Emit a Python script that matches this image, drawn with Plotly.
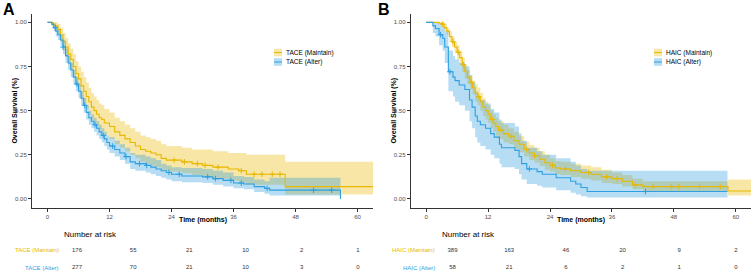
import numpy as np
import plotly.graph_objects as go

# ---------------- data ----------------
# Panel A, TACE (Maintain)
t_am = [0, 1.0, 1.5, 2.0, 2.5, 3.0, 3.5, 4.0, 4.5, 5.0, 5.5, 6.0, 6.5, 7.0, 7.5, 8.0, 8.5, 9.0, 9.5, 10.0,
        10.5, 11.0, 12.0, 13.0, 14.0, 15.0, 16.0, 17.0, 18.0, 19.0, 20.0, 21.0, 22.0, 23.0, 26.0, 28.0, 30.0,
        32.0, 35.0, 37.0, 38.5, 46.0, 63.0]
s_am = [1.0, 0.99, 0.98, 0.96, 0.93, 0.89, 0.86, 0.82, 0.79, 0.75, 0.71, 0.68, 0.64, 0.61, 0.58, 0.55, 0.52, 0.50, 0.48, 0.46,
        0.45, 0.43, 0.41, 0.38, 0.36, 0.34, 0.32, 0.30, 0.28, 0.27, 0.26, 0.25, 0.23, 0.22, 0.21, 0.20, 0.19,
        0.18, 0.17, 0.16, 0.14, 0.07, 0.07]
hi_am = [1.0, 1.0, 1.0, 0.99, 0.97, 0.94, 0.91, 0.88, 0.85, 0.82, 0.78, 0.75, 0.72, 0.69, 0.66, 0.63, 0.60, 0.58, 0.56, 0.54,
         0.53, 0.51, 0.49, 0.46, 0.44, 0.42, 0.40, 0.38, 0.36, 0.35, 0.34, 0.33, 0.31, 0.30, 0.29, 0.28, 0.28,
         0.27, 0.26, 0.26, 0.25, 0.21, 0.21]
lo_am = [1.0, 0.97, 0.95, 0.93, 0.89, 0.84, 0.81, 0.76, 0.73, 0.69, 0.65, 0.61, 0.57, 0.54, 0.51, 0.48, 0.45, 0.43, 0.41, 0.39,
         0.38, 0.36, 0.34, 0.31, 0.29, 0.27, 0.25, 0.23, 0.21, 0.20, 0.19, 0.18, 0.165, 0.155, 0.145, 0.135, 0.125,
         0.115, 0.105, 0.095, 0.08, 0.025, 0.025]
c_am = [24.5, 26.5, 29.0, 30.5, 33.0, 37.5, 40.0, 41.5, 43.5, 45.0]

# Panel A, TACE (Alter)
t_aa = [0, 0.8, 1.2, 1.6, 2.0, 2.5, 3.0, 3.5, 4.0, 4.5, 5.0, 5.5, 6.0, 6.5, 7.0, 7.5, 8.0, 8.5, 9.0, 9.5,
        10.0, 10.5, 11.0, 11.5, 12.0, 13.0, 14.0, 15.0, 16.0, 17.0, 19.0, 20.0, 21.0, 22.0, 23.0, 24.0, 26.0,
        30.0, 32.0, 34.0, 36.0, 38.0, 40.0, 42.0, 43.0, 56.7]
s_aa = [1.0, 0.99, 0.97, 0.95, 0.93, 0.90, 0.86, 0.81, 0.77, 0.73, 0.69, 0.65, 0.61, 0.57, 0.53, 0.49, 0.46, 0.44, 0.42, 0.40,
        0.38, 0.36, 0.34, 0.32, 0.30, 0.28, 0.26, 0.24, 0.21, 0.20, 0.19, 0.18, 0.17, 0.16, 0.15, 0.14, 0.13,
        0.125, 0.115, 0.105, 0.09, 0.085, 0.07, 0.06, 0.05, 0.0]
hi_aa = [1.0, 1.0, 0.99, 0.98, 0.96, 0.93, 0.90, 0.85, 0.81, 0.77, 0.73, 0.69, 0.65, 0.61, 0.57, 0.53, 0.50, 0.48, 0.46, 0.44,
         0.42, 0.40, 0.38, 0.36, 0.35, 0.33, 0.31, 0.29, 0.26, 0.25, 0.24, 0.23, 0.22, 0.20, 0.19, 0.18, 0.175,
         0.17, 0.16, 0.15, 0.13, 0.125, 0.11, 0.10, 0.12, 0.12]
lo_aa = [1.0, 0.98, 0.95, 0.92, 0.90, 0.87, 0.82, 0.77, 0.73, 0.69, 0.65, 0.61, 0.57, 0.53, 0.49, 0.45, 0.42, 0.40, 0.38, 0.36,
         0.34, 0.32, 0.30, 0.28, 0.26, 0.24, 0.22, 0.20, 0.17, 0.16, 0.15, 0.14, 0.13, 0.12, 0.11, 0.10, 0.095,
         0.09, 0.08, 0.07, 0.06, 0.055, 0.04, 0.03, 0.02, 0.005]
c_aa = [1.5, 3.0, 5.7, 7.2, 9.2, 10.8, 12.6, 15.2, 17.8, 19.2, 23.5, 25.5, 31.0, 32.5, 35.5, 37.5, 42.5, 51.5, 55.0]

# Panel B, HAIC (Maintain)
t_bm = [0, 2.5, 3.0, 3.5, 4.0, 4.5, 5.0, 5.5, 6.0, 6.5, 7.0, 7.5, 8.0, 8.5, 9.0, 9.5, 10.0, 10.5, 11.0, 11.5,
        12.0, 12.5, 13.0, 13.5, 14.0, 15.0, 16.0, 17.0, 18.0, 19.0, 20.0, 21.0, 22.0, 23.0, 24.0, 25.0, 26.0,
        28.0, 30.0, 32.0, 34.0, 36.0, 38.0, 40.0, 42.0, 58.5, 63.0]
s_bm = [1.0, 0.995, 0.99, 0.97, 0.95, 0.92, 0.89, 0.86, 0.83, 0.80, 0.76, 0.72, 0.69, 0.66, 0.63, 0.60, 0.58, 0.55, 0.52, 0.50,
        0.48, 0.45, 0.43, 0.41, 0.39, 0.37, 0.355, 0.33, 0.31, 0.28, 0.26, 0.245, 0.225, 0.205, 0.19, 0.175, 0.17,
        0.16, 0.15, 0.14, 0.125, 0.115, 0.10, 0.08, 0.07, 0.045, 0.045]
hi_bm = [1.0, 1.0, 1.0, 0.99, 0.97, 0.95, 0.92, 0.89, 0.87, 0.84, 0.80, 0.76, 0.73, 0.70, 0.67, 0.65, 0.63, 0.60, 0.57, 0.55,
         0.53, 0.50, 0.48, 0.46, 0.44, 0.42, 0.40, 0.38, 0.355, 0.325, 0.305, 0.29, 0.27, 0.25, 0.23, 0.215, 0.21,
         0.20, 0.19, 0.18, 0.165, 0.15, 0.135, 0.115, 0.10, 0.11, 0.11]
lo_bm = [1.0, 0.99, 0.98, 0.95, 0.93, 0.89, 0.86, 0.83, 0.79, 0.76, 0.72, 0.68, 0.65, 0.62, 0.59, 0.55, 0.53, 0.50, 0.47, 0.45,
         0.43, 0.40, 0.38, 0.36, 0.34, 0.32, 0.31, 0.285, 0.265, 0.24, 0.22, 0.205, 0.185, 0.165, 0.155, 0.14, 0.135,
         0.125, 0.115, 0.105, 0.09, 0.085, 0.07, 0.055, 0.045, 0.02, 0.02]
c_bm = [3.2, 5.2, 6.2, 7.2, 8.8, 10.2, 12.8, 14.5, 16.5, 19.5, 21.0, 24.5, 27.0, 31.5, 35.0, 37.0, 40.5,
        44.0, 47.5, 49.0, 53.0, 57.0]

# Panel B, HAIC (Alter)
t_ba = [0, 1.3, 1.8, 2.5, 3.2, 3.6, 4.3, 5.2, 5.6, 6.4, 7.5, 8.4, 8.9, 9.5, 9.9, 10.5, 11.5, 12.5, 13.2, 14.2,
        14.6, 17.2, 18.0, 18.5, 19.5, 21.5, 22.5, 25.2, 28.0, 29.0, 30.0, 31.2, 58.4]
s_ba = [1.0, 0.98, 0.965, 0.93, 0.91, 0.86, 0.72, 0.69, 0.67, 0.645, 0.62, 0.56, 0.52, 0.47, 0.44, 0.42, 0.40, 0.37, 0.35, 0.31,
        0.29, 0.275, 0.24, 0.20, 0.17, 0.155, 0.14, 0.12, 0.10, 0.085, 0.065, 0.042, 0.042]
hi_ba = [1.0, 1.0, 1.0, 0.99, 0.98, 0.95, 0.84, 0.81, 0.79, 0.77, 0.75, 0.70, 0.66, 0.61, 0.58, 0.56, 0.54, 0.51, 0.49, 0.45,
         0.43, 0.41, 0.37, 0.33, 0.29, 0.27, 0.25, 0.23, 0.21, 0.19, 0.17, 0.16, 0.16]
lo_ba = [1.0, 0.94, 0.92, 0.87, 0.84, 0.77, 0.61, 0.58, 0.55, 0.53, 0.50, 0.44, 0.40, 0.35, 0.32, 0.30, 0.28, 0.25, 0.23, 0.20,
         0.18, 0.17, 0.14, 0.11, 0.085, 0.075, 0.065, 0.05, 0.035, 0.025, 0.015, 0.008, 0.008]
c_ba = [2.8, 4.6, 20.0, 42.5]

# Number at risk
risk_times = [0, 12, 24, 36, 48, 60]
risk_am = [176, 55, 21, 10, 2, 1]
risk_aa = [277, 70, 21, 10, 3, 0]
risk_bm = [389, 163, 46, 20, 9, 2]
risk_ba = [58, 21, 6, 2, 1, 0]

x_ticks = [0, 12, 24, 36, 48, 60]
y_ticks = [0.0, 0.25, 0.5, 0.75, 1.0]
y_ticklabels = ["0.00", "0.25", "0.50", "0.75", "1.00"]

names_A = ["TACE (Maintain)", "TACE (Alter)"]
names_B = ["HAIC (Maintain)", "HAIC (Alter)"]
x_title = "Time (months)"
y_title = "Overall Survival (%)"

# ---------------- styling ----------------
YEL = "#E7B800"
BLU = "#2E9FDF"
YEL_F = "rgba(231,184,0,0.35)"
BLU_F = "rgba(46,159,223,0.35)"
FONT = "Arial, Liberation Sans, sans-serif"
W, H = 753, 271


def px(x):
    return x / W


def py(y):
    return 1 - y / H


fig = go.Figure()


def add_curve(t, lo, hi, fillc, xa, ya):
    fig.add_trace(go.Scatter(x=t, y=lo, mode="lines", line=dict(width=0, shape="hv"),
                             hoverinfo="skip", showlegend=False, xaxis=xa, yaxis=ya))
    fig.add_trace(go.Scatter(x=t, y=hi, mode="lines", line=dict(width=0, shape="hv"),
                             fill="tonexty", fillcolor=fillc, hoverinfo="skip",
                             showlegend=False, xaxis=xa, yaxis=ya))


def add_line(t, s, cens, color, xa, ya, name):
    fig.add_trace(go.Scatter(x=t, y=s, mode="lines", line=dict(width=1.1, color=color, shape="hv"),
                             name=name, showlegend=False, xaxis=xa, yaxis=ya))
    ta = np.array(t)
    sa = np.array(s)
    idx = np.searchsorted(ta, np.array(cens), side="right") - 1
    fig.add_trace(go.Scatter(x=cens, y=sa[idx], mode="markers",
                             marker=dict(symbol="cross-thin-open", size=4,
                                         line=dict(width=1, color=color), color=color),
                             showlegend=False, hoverinfo="skip", xaxis=xa, yaxis=ya))


add_curve(t_am, lo_am, hi_am, YEL_F, "x", "y")
add_curve(t_aa, lo_aa, hi_aa, BLU_F, "x", "y")
add_line(t_am, s_am, c_am, YEL, "x", "y", names_A[0])
add_line(t_aa, s_aa, c_aa, BLU, "x", "y", names_A[1])

add_curve(t_bm, lo_bm, hi_bm, YEL_F, "x2", "y2")
add_curve(t_ba, lo_ba, hi_ba, BLU_F, "x2", "y2")
add_line(t_bm, s_bm, c_bm, YEL, "x2", "y2", names_B[0])
add_line(t_ba, s_ba, c_ba, BLU, "x2", "y2", names_B[1])

# risk tables
for xa, ya, rm, ra in [("x3", "y3", risk_am, risk_aa), ("x4", "y4", risk_bm, risk_ba)]:
    for row, vals in [(1, rm), (0, ra)]:
        fig.add_trace(go.Scatter(x=risk_times, y=[row] * len(risk_times), mode="text",
                                 text=[str(v) for v in vals], textposition="middle center",
                                 textfont=dict(size=6, color="#333333", family=FONT),
                                 cliponaxis=False,
                                 showlegend=False, hoverinfo="skip", xaxis=xa, yaxis=ya))

dom_A = [px(32), px(373)]
dom_B = [px(410.7), px(751.2)]
dom_Y = [py(207.8), py(13.5)]
dom_R = [0, py(217)]

axis_common = dict(showgrid=False, zeroline=False, showline=True, linecolor="#333333", linewidth=1,
                   ticks="outside", ticklen=3, tickcolor="#333333", tickwidth=1,
                   tickfont=dict(size=6, color="#4D4D4D", family=FONT))

xa_common = dict(axis_common, range=[-3, 63], tickvals=x_ticks, ticktext=[str(v) for v in x_ticks])
ya_common = dict(axis_common, range=[-0.05, 1.05], tickvals=y_ticks, ticktext=y_ticklabels)

hidden = dict(visible=False, showgrid=False, zeroline=False)

fig.update_layout(
    width=W, height=H, margin=dict(l=0, r=0, t=0, b=0),
    plot_bgcolor="white", paper_bgcolor="white", showlegend=False,
    font=dict(family=FONT),
    xaxis=dict(xa_common, domain=dom_A, anchor="y"),
    yaxis=dict(ya_common, domain=dom_Y, anchor="x"),
    xaxis2=dict(xa_common, domain=dom_B, anchor="y2"),
    yaxis2=dict(ya_common, domain=dom_Y, anchor="x2"),
    xaxis3=dict(hidden, domain=dom_A, range=[(32 - 77) / 4.683, (373 - 77) / 4.683], anchor="y3"),
    yaxis3=dict(hidden, domain=dom_R, range=[-0.19, 2.914], anchor="x3"),
    xaxis4=dict(hidden, domain=dom_B, range=[(410.7 - 452.5) / 4.725, (751.2 - 452.5) / 4.725], anchor="y4"),
    yaxis4=dict(hidden, domain=dom_R, range=[-0.19, 2.914], anchor="x4"),
)

ann = []
# panel letters
ann.append(dict(text="<b>A</b>", x=px(1), y=py(-1), xref="paper", yref="paper", xanchor="left", yanchor="top",
                showarrow=False, font=dict(size=16, color="black", family=FONT)))
ann.append(dict(text="<b>B</b>", x=px(376), y=py(-1), xref="paper", yref="paper", xanchor="left", yanchor="top",
                showarrow=False, font=dict(size=16, color="black", family=FONT)))

# axis titles
for xc, ytx in [((32 + 373) / 2, 15), ((410.7 + 751.2) / 2, 394)]:
    ann.append(dict(text="<b>" + x_title + "</b>", x=px(xc), y=py(219.5), xref="paper", yref="paper",
                    xanchor="center", yanchor="middle", showarrow=False,
                    font=dict(size=7, color="black", family=FONT)))
    ann.append(dict(text="<b>" + y_title + "</b>", x=px(ytx), y=py(110.6), xref="paper", yref="paper",
                    xanchor="center", yanchor="middle", showarrow=False, textangle=-90,
                    font=dict(size=7, color="black", family=FONT)))

# risk table labels
for xa, ya, xl, xh, names in [("x3", "y3", (61 - 77) / 4.683, (61.7 - 77) / 4.683, names_A),
                              ("x4", "y4", (437 - 452.5) / 4.725, (440 - 452.5) / 4.725, names_B)]:
    ann.append(dict(text="Number at risk", x=xh, y=1.92, xref=xa, yref=ya, xanchor="left", yanchor="middle",
                    showarrow=False, font=dict(size=8, color="black", family=FONT)))
    ann.append(dict(text=names[0], x=xl, y=1, xref=xa, yref=ya, xanchor="right", yanchor="middle",
                    showarrow=False, font=dict(size=6, color=YEL, family=FONT)))
    ann.append(dict(text=names[1], x=xl, y=0, xref=xa, yref=ya, xanchor="right", yanchor="middle",
                    showarrow=False, font=dict(size=6, color=BLU, family=FONT)))

# manual legends
shapes = []
for x0, names in [(274, names_A), (654, names_B)]:
    for yc, col, fc, nm in [(52.5, YEL, YEL_F, names[0]), (62, BLU, BLU_F, names[1])]:
        shapes.append(dict(type="rect", xref="paper", yref="paper", x0=px(x0), x1=px(x0 + 8),
                           y0=py(yc + 3.8), y1=py(yc - 3.8), fillcolor=fc, line=dict(width=0)))
        shapes.append(dict(type="line", xref="paper", yref="paper", x0=px(x0), x1=px(x0 + 8),
                           y0=py(yc), y1=py(yc), line=dict(width=1, color=col)))
        ann.append(dict(text=nm, x=px(x0 + 10), y=py(yc), xref="paper", yref="paper",
                        xanchor="left", yanchor="middle", showarrow=False,
                        font=dict(size=6.5, color="#000000", family=FONT)))

fig.update_layout(annotations=ann, shapes=shapes)
fig.write_html("out.html", post_script="document.body.style.margin='0';",
               config={"displayModeBar": False})
